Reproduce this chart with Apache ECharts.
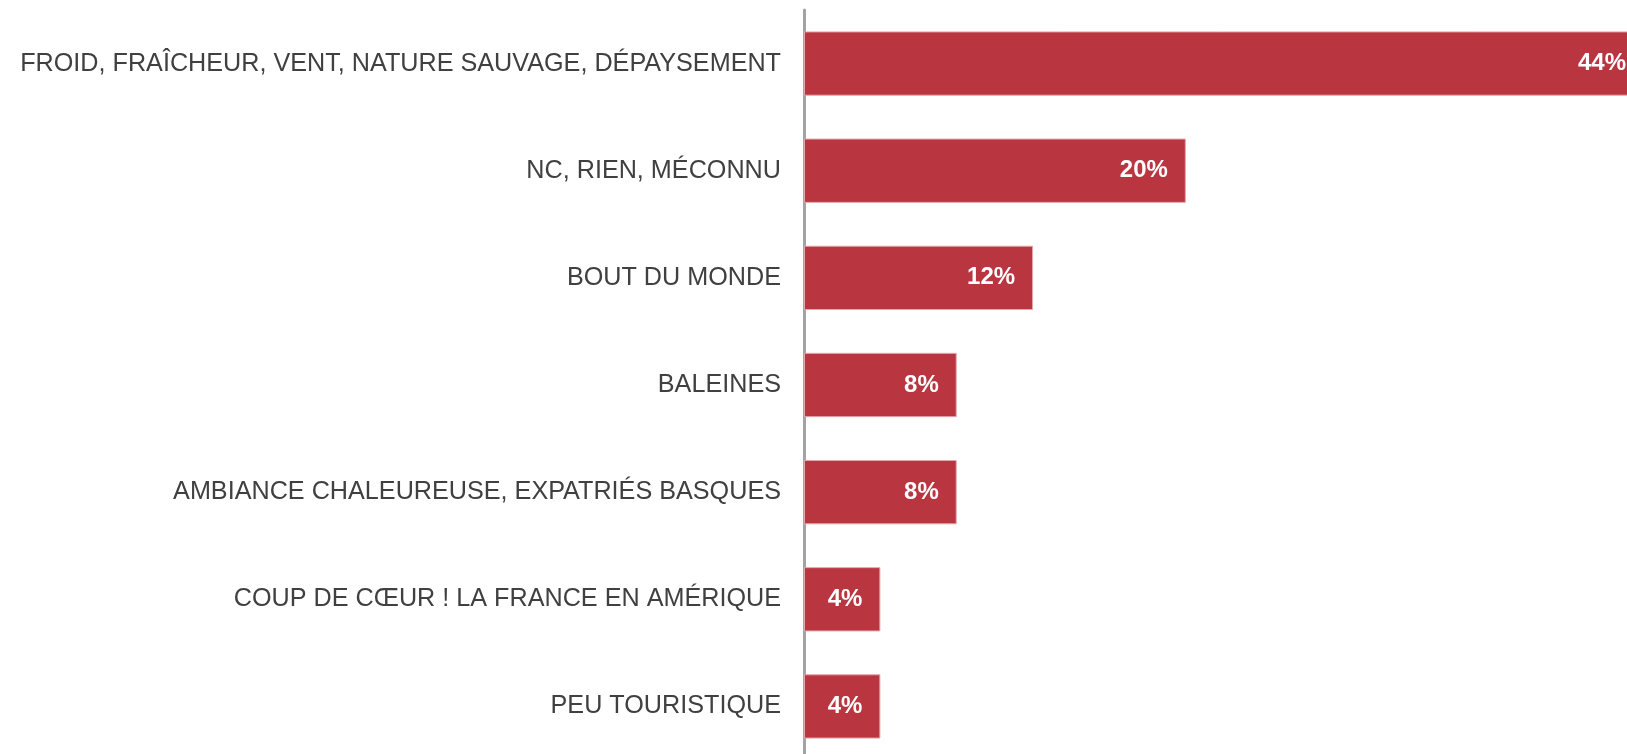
<!DOCTYPE html>
<html>
<head>
<meta charset="utf-8">
<title>Image associée</title>
<script src="https://cdn.jsdelivr.net/npm/echarts@6/dist/echarts.min.js"></script>
<style>
  html, body { margin: 0; padding: 0; background: #ffffff; }
  #chart { width: 1627px; height: 754px; }
</style>
</head>
<body>
<div id="chart"></div>
<script>
// Answer categories, listed from top to bottom
const categories = [
  'FROID, FRAÎCHEUR, VENT, NATURE SAUVAGE, DÉPAYSEMENT',
  'NC, RIEN, MÉCONNU',
  'BOUT DU MONDE',
  'BALEINES',
  'AMBIANCE CHALEUREUSE, EXPATRIÉS BASQUES',
  'COUP DE CŒUR ! LA FRANCE EN AMÉRIQUE',
  'PEU TOURISTIQUE'
];

// Share of responses, in percent
const shares = [44, 20, 12, 8, 8, 4, 4];

const chart = echarts.init(document.getElementById('chart'), null, { renderer: 'canvas' });

chart.setOption({
  backgroundColor: '#ffffff',
  animation: false,
  grid: {
    left: 804,
    right: -17,
    top: 10,
    bottom: -6,
    containLabel: false,
    outerBoundsMode: 'none'
  },
  xAxis: {
    type: 'value',
    min: 0,
    max: 44,
    show: false
  },
  yAxis: {
    type: 'category',
    data: categories,
    inverse: true,
    axisLine: { show: true, lineStyle: { color: '#a3a3a3', width: 3 } },
    axisTick: { show: false },
    splitLine: { show: false },
    axisLabel: {
      margin: 23,
      color: '#404040',
      fontFamily: 'Liberation Sans, Arial, sans-serif',
      fontSize: 25.2,
      padding: [5, 0, 0, 0]
    }
  },
  series: [{
    type: 'bar',
    data: shares,
    barCategoryGap: '40%',
    clip: false,
    itemStyle: {
      color: '#b93540',
      borderColor: '#e4a6ab',
      borderWidth: 1
    },
    label: {
      show: true,
      position: 'insideRight',
      distance: 18,
      color: '#ffffff',
      fontFamily: 'Liberation Sans, Arial, sans-serif',
      fontWeight: 'bold',
      fontSize: 24,
      padding: [4, 0, 0, 0],
      formatter: p => p.value + '%'
    }
  }]
});
</script>
</body>
</html>
